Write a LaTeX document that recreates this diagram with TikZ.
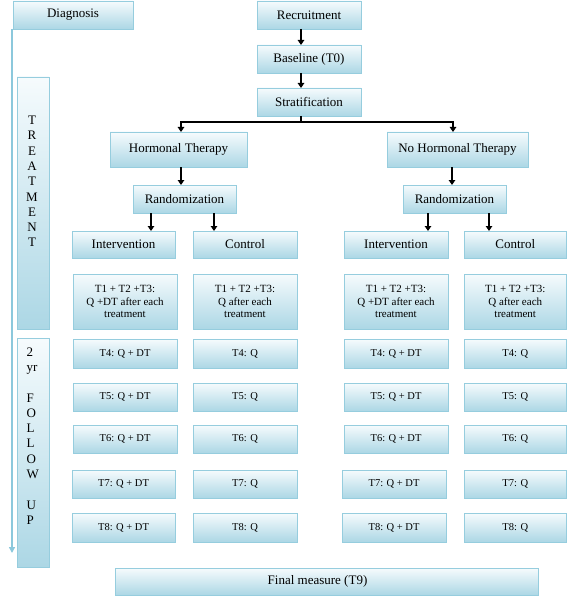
\documentclass[tikz,border=0pt]{standalone}
\usepackage{fontspec}
\setmainfont{Liberation Serif}
\usetikzlibrary{arrows.meta,shadows}
\definecolor{boxline}{RGB}{150,205,222}
\definecolor{boxbot}{RGB}{172,215,229}
\definecolor{boxtop}{RGB}{246,251,253}
\definecolor{sidearrow}{RGB}{140,200,220}
\tikzset{
  box/.style={draw=boxline, line width=0.9pt, top color=boxtop, bottom color=boxbot,
    inner sep=0pt, outer sep=0pt, align=center, font=\fontsize{13}{15}\selectfont,
    drop shadow={shadow xshift=0.6pt, shadow yshift=-1.2pt, fill=black, opacity=0.18}},
  small/.style={font=\fontsize{10.5}{12.7}\selectfont},
  mid/.style={font=\fontsize{11}{12.7}\selectfont},
  bartext/.style={inner sep=0pt, font=\fontsize{13}{15.3}\selectfont},
  arr/.style={draw=black, line width=1.4pt, -{Triangle[length=5pt,width=6.5pt]}},
  sidearr/.style={draw=sidearrow, line width=1.3pt, -{Triangle[length=6pt,width=6pt]}},
}
\newcommand\bx[6][]{\node[box,#1,minimum width={(#5-#3)*1pt},minimum height={(#6-#4)*1pt}] (#2) at ({(#3+#5)/2},{(#4+#6)/2})}
\begin{document}
\begin{tikzpicture}[x=1pt,y=-1pt]
\useasboundingbox (0,0) rectangle (568,596);
% top column
\bx{diag}{13}{1}{133}{29}{Diagnosis};
\bx{rec}{257}{1}{361}{29}{Recruitment};
\bx{base}{257}{45}{361}{73}{Baseline (T0)};
\bx{strat}{257}{88}{361}{116}{Stratification};
\bx{ht}{110}{132}{247}{167}{Hormonal Therapy};
\bx{nht}{387}{132}{528}{167}{No Hormonal Therapy};
\bx{randa}{133}{185}{236}{213}{Randomization};
\bx{randb}{403}{185}{506}{213}{Randomization};
\bx{inta}{72}{231}{175}{258}{Intervention};
\bx{cona}{193}{231}{297}{258}{Control};
\bx{intb}{344}{231}{448}{258}{Intervention};
\bx{conb}{464}{231}{566.5}{258}{Control};
% treatment boxes
\bx[mid]{ta1}{73}{274}{177}{329}{T1 + T2 +T3:\\Q +DT after each\\treatment};
\bx[mid]{tb1}{193}{274}{297}{329}{T1 + T2 +T3:\\Q after each\\treatment};
\bx[mid]{tc1}{344}{274}{448}{329}{T1 + T2 +T3:\\Q +DT after each\\treatment};
\bx[mid]{td1}{464}{274}{566.5}{329}{T1 + T2 +T3:\\Q after each\\treatment};
% follow-up rows
\bx[small]{ta4}{73}{339}{177}{368}{T4: Q + DT};
\bx[small]{tb4}{193}{339}{297}{368}{T4: Q};
\bx[small]{tc4}{344}{339}{448}{368}{T4: Q + DT};
\bx[small]{td4}{464}{339}{566.5}{368}{T4: Q};
\bx[small]{ta5}{73}{383}{177}{411}{T5: Q + DT};
\bx[small]{tb5}{193}{383}{297}{411}{T5: Q};
\bx[small]{tc5}{344}{383}{448}{411}{T5: Q + DT};
\bx[small]{td5}{464}{383}{566.5}{411}{T5: Q};
\bx[small]{ta6}{73}{425}{177}{453}{T6: Q + DT};
\bx[small]{tb6}{193}{425}{297}{453}{T6: Q};
\bx[small]{tc6}{344}{425}{448}{453}{T6: Q + DT};
\bx[small]{td6}{464}{425}{566.5}{453}{T6: Q};
\bx[small]{ta7}{72}{470}{175}{498}{T7: Q + DT};
\bx[small]{tb7}{193}{470}{297}{498}{T7: Q};
\bx[small]{tc7}{342}{470}{446}{498}{T7: Q + DT};
\bx[small]{td7}{464}{470}{566.5}{498}{T7: Q};
\bx[small]{ta8}{72}{513}{175}{542}{T8: Q + DT};
\bx[small]{tb8}{193}{513}{297}{542}{T8: Q};
\bx[small]{tc8}{342}{513}{446}{542}{T8: Q + DT};
\bx[small]{td8}{464}{513}{566.5}{542}{T8: Q};
% final
\bx{fin}{115}{568}{538}{595}{Final measure (T9)\hspace*{18pt}};
% side bars
\bx{treatbar}{17}{77}{49}{329}{};
\bx{fubar}{17}{338}{49}{567}{};
\node[bartext, align=center] (treattxt) at (32,181.5) {T\\R\\E\\A\\T\\M\\E\\N\\T};
\node[bartext, align=left, anchor=west] (futxt) at (26.5,436) {2\\yr\\~\\F\\O\\L\\L\\O\\W\\~\\U\\P};
% side arrow
\coordinate (sa) at ([xshift=-1pt]diag.south west);
\coordinate (sb) at (12,553);
\draw[sidearr] (sa) -- (sb);
% connectors
\draw[arr] ([xshift=-8pt]rec.south) -- ([xshift=-8pt]base.north);
\draw[arr] ([xshift=-8pt]base.south) -- ([xshift=-8pt]strat.north);
\coordinate (split) at (301,122);
\draw[line width=1.4pt] ([xshift=-8pt]strat.south) -- (split);
\draw[arr] (split) -| ([xshift=2.5pt]ht.north);
\draw[arr] (split) -| ([xshift=-4.5pt]nht.north);
\draw[arr] ([xshift=2.5pt]ht.south) -- ([xshift=2.5pt]ht.south |- randa.north);
\draw[arr] ([xshift=-5.5pt]nht.south) -- ([xshift=-5.5pt]nht.south |- randb.north);
\draw[arr] ([xshift=-33.5pt]randa.south) -- ([xshift=-33.5pt]randa.south |- inta.north);
\draw[arr] ([xshift=29.5pt]randa.south) -- ([xshift=29.5pt]randa.south |- cona.north);
\draw[arr] ([xshift=-26.5pt]randb.south) -- ([xshift=-26.5pt]randb.south |- intb.north);
\draw[arr] ([xshift=34.5pt]randb.south) -- ([xshift=34.5pt]randb.south |- conb.north);
\end{tikzpicture}
\end{document}
